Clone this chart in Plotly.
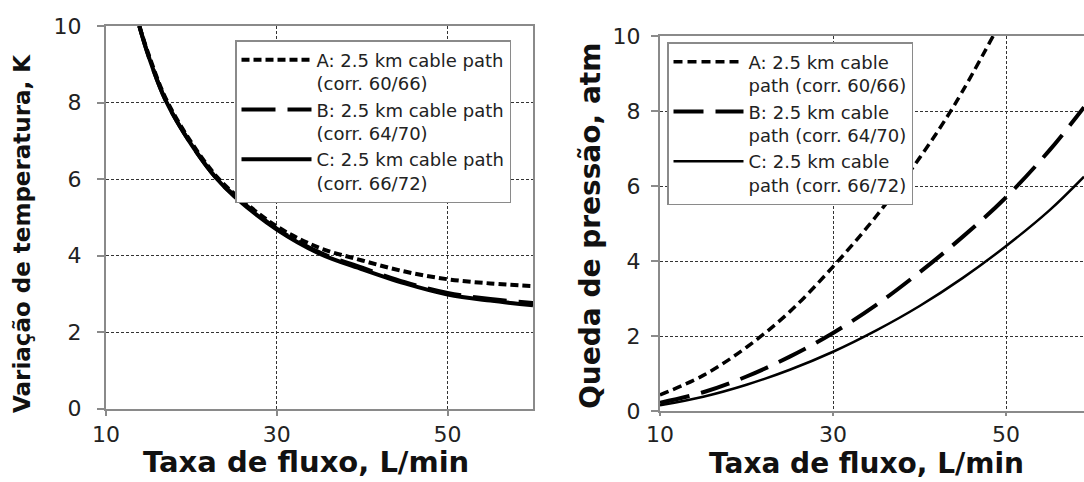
import plotly.graph_objects as go

# ---------------- data ----------------
# Left panel: temperature variation (K) vs flow rate (L/min)
left_x = [13.9, 15, 17, 20, 23, 25, 30, 35, 40, 45, 50, 55, 60]
left_A = [10.0, 9.25, 8.1, 6.95, 6.05, 5.62, 4.76, 4.2, 3.87, 3.58, 3.38, 3.27, 3.2]
left_B = [10.0, 9.2, 8.05, 6.9, 6.0, 5.58, 4.7, 4.08, 3.68, 3.3, 3.02, 2.86, 2.76]
left_C = [10.0, 9.2, 8.05, 6.9, 6.0, 5.55, 4.68, 4.05, 3.64, 3.27, 2.98, 2.82, 2.7]

# Right panel: pressure drop (atm) vs flow rate (L/min)
right_xA = [10, 15, 20, 25, 30, 35, 40, 44, 48.5]
right_A = [0.43, 0.95, 1.7, 2.65, 3.85, 5.2, 6.75, 8.15, 10.0]
right_x = [10, 15, 20, 25, 30, 35, 40, 45, 50, 55, 59]
right_B = [0.22, 0.5, 0.92, 1.45, 2.08, 2.83, 3.7, 4.65, 5.7, 6.95, 8.1]
right_C = [0.15, 0.38, 0.7, 1.1, 1.58, 2.15, 2.8, 3.55, 4.4, 5.35, 6.25]

left_names = ["A: 2.5 km cable path<br>(corr. 60/66)",
              "B: 2.5 km cable path<br>(corr. 64/70)",
              "C: 2.5 km cable path<br>(corr. 66/72)"]
right_names = ["A: 2.5 km cable<br>path (corr. 60/66)",
               "B: 2.5 km cable<br>path (corr. 64/70)",
               "C: 2.5 km cable<br>path (corr. 66/72)"]

x_ticks = [10, 30, 50]
y_ticks = [0, 2, 4, 6, 8, 10]

x_title = "Taxa de fluxo, L/min"
y_title_left = "Variação de temperatura, K"
y_title_right = "Queda de pressão, atm"

W, H = 1084, 482

fig = go.Figure()

left_styles = [dict(dash="8px,4px", width=4),
               dict(dash="34px,12px", width=4),
               dict(dash="solid", width=4)]
right_styles = [dict(dash="9px,5px", width=3.5),
                dict(dash="30px,12px", width=4),
                dict(dash="solid", width=2.5)]

for name, ys, st in zip(left_names, [left_A, left_B, left_C], left_styles):
    fig.add_trace(go.Scatter(x=left_x, y=ys, name=name, mode="lines",
                             line=dict(color="black", shape="spline", **st),
                             xaxis="x", yaxis="y", legend="legend"))

for name, xs, ys, st in zip(right_names, [right_xA, right_x, right_x],
                            [right_A, right_B, right_C], right_styles):
    fig.add_trace(go.Scatter(x=xs, y=ys, name=name, mode="lines",
                             line=dict(color="black", shape="spline", **st),
                             xaxis="x2", yaxis="y2", legend="legend2"))

tickfont = dict(family="DejaVu Sans", size=22, color="#222")
common_axis = dict(showline=True, linecolor="#8a8a8a", linewidth=2,
                   ticks="outside", tickcolor="#8a8a8a", tickwidth=1.5,
                   showgrid=True, gridcolor="#333", gridwidth=1, griddash="3px,2px",
                   zeroline=False, tickfont=tickfont, automargin=False)

legend_font = dict(family="DejaVu Sans", size=18, color="#222")

fig.update_layout(
    width=W, height=H,
    margin=dict(l=0, r=0, t=0, b=0, autoexpand=False),
    paper_bgcolor="white", plot_bgcolor="white",
    xaxis=dict(domain=[106 / W, 533 / W], range=[10, 60], tickvals=x_ticks, ticklen=5,
               anchor="y", mirror=True, ticklabelstandoff=0, **common_axis),
    yaxis=dict(domain=[(H - 408.5) / H, (H - 26) / H], range=[0, 10], tickvals=y_ticks, ticklen=7,
               anchor="x", mirror=True, ticklabelstandoff=11, **common_axis),
    xaxis2=dict(domain=[660 / W, 1.0], range=[10, 59], tickvals=x_ticks, ticklen=3,
                anchor="y2", mirror=True, ticklabelstandoff=0, **common_axis),
    yaxis2=dict(domain=[(H - 411) / H, (H - 36) / H], range=[0, 10], tickvals=y_ticks, ticklen=7,
                anchor="x2", mirror=False, ticklabelstandoff=6, **common_axis),
    legend=dict(x=235 / W, y=(H - 40) / H, xanchor="left", yanchor="top",
                bgcolor="white", bordercolor="#8a8a8a", borderwidth=1.5,
                font=legend_font, itemwidth=70, valign="top", tracegroupgap=0),
    legend2=dict(x=667 / W, y=(H - 42) / H, xanchor="left", yanchor="top",
                 bgcolor="white", bordercolor="#8a8a8a", borderwidth=1.5,
                 font=legend_font, itemwidth=70, valign="top", tracegroupgap=0),
    showlegend=True,
)

fig.add_annotation(text=x_title, x=306 / W, y=(H - 462) / H, xref="paper", yref="paper",
                   showarrow=False, xanchor="center", yanchor="middle",
                   font=dict(family="DejaVu Sans", size=29, color="#111", weight="bold"))
fig.add_annotation(text=x_title, x=866 / W, y=(H - 463) / H, xref="paper", yref="paper",
                   showarrow=False, xanchor="center", yanchor="middle",
                   font=dict(family="DejaVu Sans", size=28, color="#111", weight="bold"))
fig.add_annotation(text=y_title_left, x=22 / W, y=(H - 234) / H, xref="paper", yref="paper",
                   showarrow=False, xanchor="center", yanchor="middle", textangle=-90,
                   font=dict(family="DejaVu Sans", size=23, color="#111", weight="bold"))
fig.add_annotation(text=y_title_right, x=590 / W, y=(H - 226) / H, xref="paper", yref="paper",
                   showarrow=False, xanchor="center", yanchor="middle", textangle=-90,
                   font=dict(family="DejaVu Sans", size=28, color="#111", weight="bold"))

fig.write_html("out.html",
               config={"displayModeBar": False},
               post_script="document.body.style.margin='0';document.body.style.overflow='hidden';")
